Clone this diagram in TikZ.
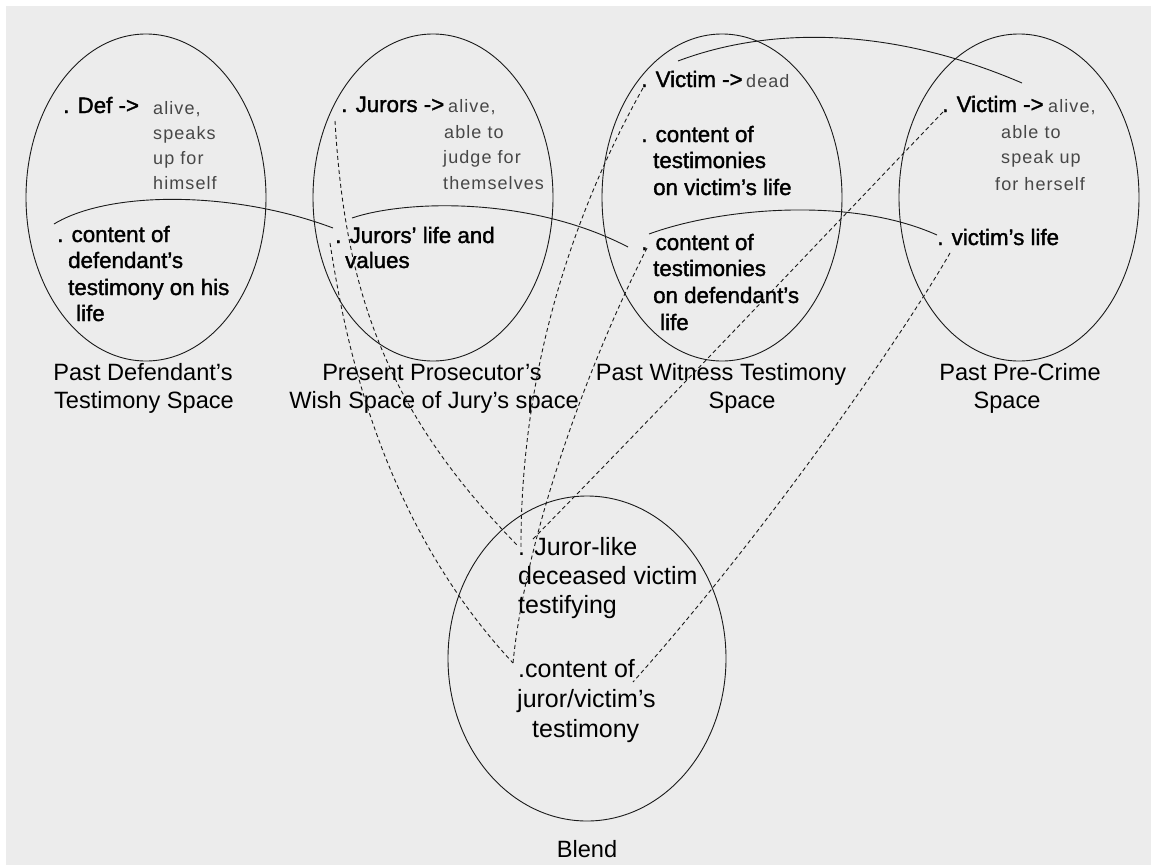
\documentclass[tikz,border=0pt]{standalone}
\usepackage{fontspec}
\setmainfont{Liberation Sans}
\newfontfamily\itemfont{Liberation Sans}[FakeBold=1.5]
\newfontfamily\notefont{Liberation Sans}[LetterSpace=6]
\usetikzlibrary{shapes.geometric}
\definecolor{paper}{HTML}{ECECEC}
\definecolor{ink}{HTML}{1A1A1A}

\begin{document}
\begin{tikzpicture}[x=1pt,y=-1pt,
  oval/.style={ellipse, draw=ink, line width=0.9pt, inner sep=0pt},
  item/.style={anchor=base west, inner sep=0pt, text=black,
               font={\itemfont\fontsize{22.3pt}{26pt}\selectfont}},
  note/.style={anchor=base west, inner sep=0pt, text=black!72,
               font={\notefont\fontsize{18pt}{25pt}\selectfont}},
  blendtext/.style={anchor=base west, inner sep=0pt, text=black,
               font={\fontsize{25pt}{29pt}\selectfont}},
  caption/.style={anchor=base, inner sep=0pt, text=black,
               font={\fontsize{23.6pt}{28pt}\selectfont}},
  link/.style={draw=ink, line width=0.9pt},
  mapping/.style={draw=ink, line width=0.9pt, dash pattern=on 4pt off 3pt}]

% page and backdrop
\useasboundingbox (0,0) rectangle (1151,865);
\fill[white] (0,0) rectangle (1151,865);
\fill[paper] (6,6) rectangle (1151,865);

% mental spaces
\node[oval, minimum width=240pt, minimum height=327pt] (defspace)  at (146,197.5) {};
\node[oval, minimum width=240pt, minimum height=327pt] (jurspace)  at (433,197.5) {};
\node[oval, minimum width=240pt, minimum height=327pt] (witspace)  at (722,197.5) {};
\node[oval, minimum width=240pt, minimum height=327pt] (prespace)  at (1019,197.5) {};
\node[oval, minimum width=278pt, minimum height=325pt] (blendspace) at (587,658.5) {};

% defendant's testimony space
\node[item] (defA)  at (63,113) {. Def ->};
\node[note] (defN1) at (153,114) {alive,};
\node[note] (defN2) at (153,139) {speaks};
\node[note] (defN3) at (153,164) {up for};
\node[note] (defN4) at (153,189) {himself};
\node[item] (defB1) at (57,242) {. content of};
\node[item] (defB2) at (68,268) {defendant’s};
\node[item] (defB3) at (68,295) {testimony on his};
\node[item] (defB4) at (76,321) {life};

% jury's space
\node[item] (jurA)  at (341,112) {. Jurors ->};
\node[note] (jurN1) at (448,112) {alive,};
\node[note] (jurN2) at (444,138) {able to};
\node[note] (jurN3) at (443,163) {judge for};
\node[note] (jurN4) at (443,189) {themselves};
\node[item] (jurB1) at (335,243) {. Jurors’ life and};
\node[item] (jurB2) at (345,268) {values};

% witness testimony space
\node[item] (witA)  at (641,87) {. Victim ->};
\node[note] (witN1) at (746,87) {dead};
\node[item] (witB1) at (641,142) {. content of};
\node[item] (witB2) at (653,168) {testimonies};
\node[item] (witB3) at (653,195) {on victim’s life};
\node[item] (witC1) at (641,250) {. content of};
\node[item] (witC2) at (653,276) {testimonies};
\node[item] (witC3) at (653,303) {on defendant’s};
\node[item] (witC4) at (660,330) {life};

% pre-crime space
\node[item] (preA)  at (942,112) {. Victim ->};
\node[note] (preN1) at (1048,112) {alive,};
\node[note] (preN2) at (1001,138) {able to};
\node[note] (preN3) at (1001,163) {speak up};
\node[note] (preN4) at (995,190) {for herself};
\node[item] (preB1) at (937,245) {. victim’s life};

% blend
\node[blendtext] (blA1) at (518,555) {. Juror-like};
\node[blendtext] (blA2) at (518,584) {deceased victim};
\node[blendtext] (blA3) at (518,613) {testifying};
\node[blendtext] (blB1) at (518,677) {.content of};
\node[blendtext] (blB2) at (517,707) {juror/victim’s};
\node[blendtext] (blB3) at (532,737) {testimony};

% captions
\node[caption] (capDef1) at (143,380) {Past Defendant’s};
\node[caption] (capDef2) at (144,408) {Testimony Space};
\node[caption] (capJur1) at (432,380) {Present Prosecutor’s};
\node[caption] (capJur2) at (434,408) {Wish Space of Jury’s space};
\node[caption] (capWit1) at (721,380) {Past Witness Testimony};
\node[caption] (capWit2) at (742,408) {Space};
\node[caption] (capPre1) at (1020,380) {Past Pre-Crime};
\node[caption] (capPre2) at (1007,408) {Space};
\node[caption] (capBlend) at (587,857) {Blend};

% connector ports
\coordinate (lifeDef)   at (54,224);
\coordinate (lifeJurL)  at (333,228);
\coordinate (lifeJurR)  at (352,218);
\coordinate (lifeWitL)  at (628,247);
\coordinate (lifeWitR)  at (649,234);
\coordinate (lifePre)   at (937,235);
\coordinate (victWit)   at (678,61);
\coordinate (victPre)   at (1022,83);

\coordinate (jurTop)    at (335,121);
\coordinate (jurLife)   at (330,243);
\coordinate (witDead)   at (643,88);
\coordinate (witDefl)   at (647,248);
\coordinate (preAlive)  at (943,112);
\coordinate (preLife)   at (950,253);
\coordinate (blendRole) at (518,546);
\coordinate (blendRoleR) at (532,540);
\coordinate (blendRoleV) at (521,550);
\coordinate (blendCont) at (513,663);
\coordinate (blendContR) at (633,682);

% counterpart links between input spaces
\draw[link] (lifeDef)  .. controls (110,190) and (235,191) .. (lifeJurL);
\draw[link] (lifeJurR) .. controls (405,200) and (530,196) .. (lifeWitL);
\draw[link] (lifeWitR) .. controls (720,208) and (850,196) .. (lifePre);
\draw[link] (victWit)  .. controls (760,30) and (880,22) .. (victPre);

% projections into the blend
\draw[mapping] (jurTop)   .. controls (345,290) and (385,410) .. (blendRole);
\draw[mapping] (jurLife)  .. controls (345,340) and (380,520) .. (blendCont);
\draw[mapping] (witDead)  .. controls (580,200) and (520,360) .. (blendRoleV);
\draw[mapping] (witDefl)  .. controls (585,370) and (525,540) .. (blendCont);
\draw[mapping] (preAlive) .. controls (830,230) and (650,420) .. (blendRoleR);
\draw[mapping] (preLife)  .. controls (900,340) and (760,540) .. (blendContR);
\end{tikzpicture}
\end{document}
